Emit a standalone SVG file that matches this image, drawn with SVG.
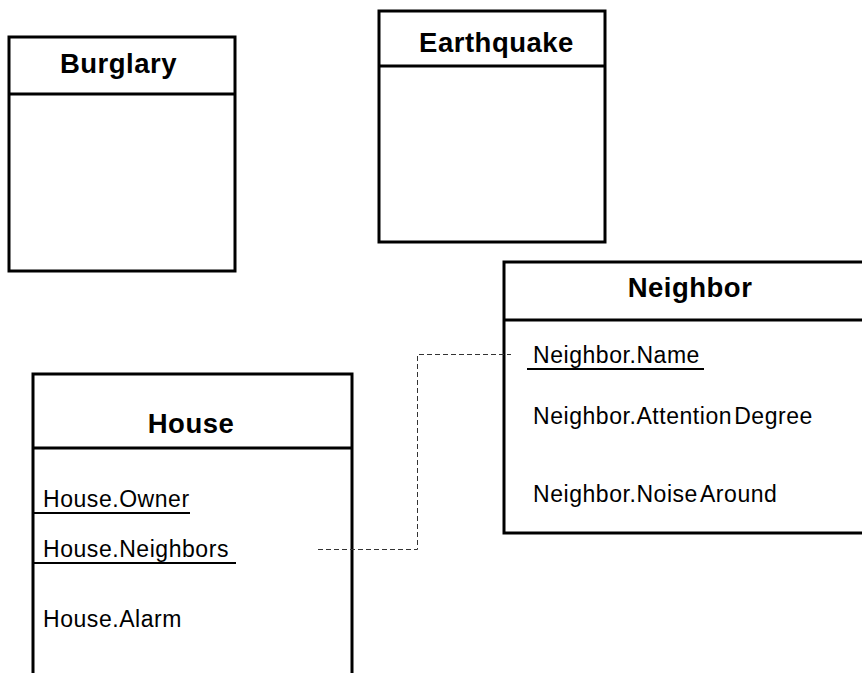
<svg xmlns="http://www.w3.org/2000/svg" width="862" height="673" viewBox="0 0 862 673">
  <style>
    .box { fill: #ffffff; stroke: #000000; stroke-width: 3; }
    .sep { stroke: #000000; stroke-width: 3; }
    .title { font-family: "Liberation Sans", Arial, sans-serif; font-weight: bold; font-size: 27.5px; letter-spacing: 0.5px; text-anchor: middle; fill: #000000; }
    .attr { font-family: "Liberation Sans", Arial, sans-serif; font-size: 23px; letter-spacing: 0.55px; fill: #000000; }
    .uline { stroke: #000000; stroke-width: 2; }
    .link { fill: none; stroke: #333333; stroke-width: 1; stroke-dasharray: 5 3; }
  </style>
  <rect x="0" y="0" width="862" height="673" fill="#ffffff"/>

  <g id="burglary">
    <rect class="box" x="9" y="37" width="226" height="234"/>
    <line class="sep" x1="9" y1="94" x2="235" y2="94"/>
    <text class="title" x="118.5" y="73">Burglary</text>
  </g>

  <g id="earthquake">
    <rect class="box" x="379" y="11" width="226" height="231"/>
    <line class="sep" x1="379" y1="66" x2="605" y2="66"/>
    <text class="title" x="496.5" y="52">Earthquake</text>
  </g>

  <g id="neighbor">
    <rect class="box" x="504" y="262" width="380" height="271"/>
    <line class="sep" x1="504" y1="320" x2="884" y2="320"/>
    <text class="title" x="690" y="297">Neighbor</text>
    <text class="attr" x="533" y="363">Neighbor.Name</text>
    <line class="uline" x1="527" y1="369" x2="704" y2="369"/>
    <text class="attr" x="533" y="424">Neighbor.Attention<tspan dx="2">Degree</tspan></text>
    <text class="attr" x="533" y="502">Neighbor.Noise<tspan dx="2">Around</tspan></text>
  </g>

  <g id="house">
    <rect class="box" x="33" y="374" width="319" height="320"/>
    <line class="sep" x1="33" y1="448" x2="352" y2="448"/>
    <text class="title" x="191" y="433">House</text>
    <text class="attr" x="43" y="507">House.Owner</text>
    <line class="uline" x1="33" y1="513" x2="190" y2="513"/>
    <text class="attr" x="43" y="557">House.Neighbors</text>
    <line class="uline" x1="33" y1="563" x2="236" y2="563"/>
    <text class="attr" x="43" y="627">House.Alarm</text>
  </g>

  <g id="connectors">
    <path class="link" d="M318,549.5 H417.5 V354.5 H511"/>
  </g>
</svg>
